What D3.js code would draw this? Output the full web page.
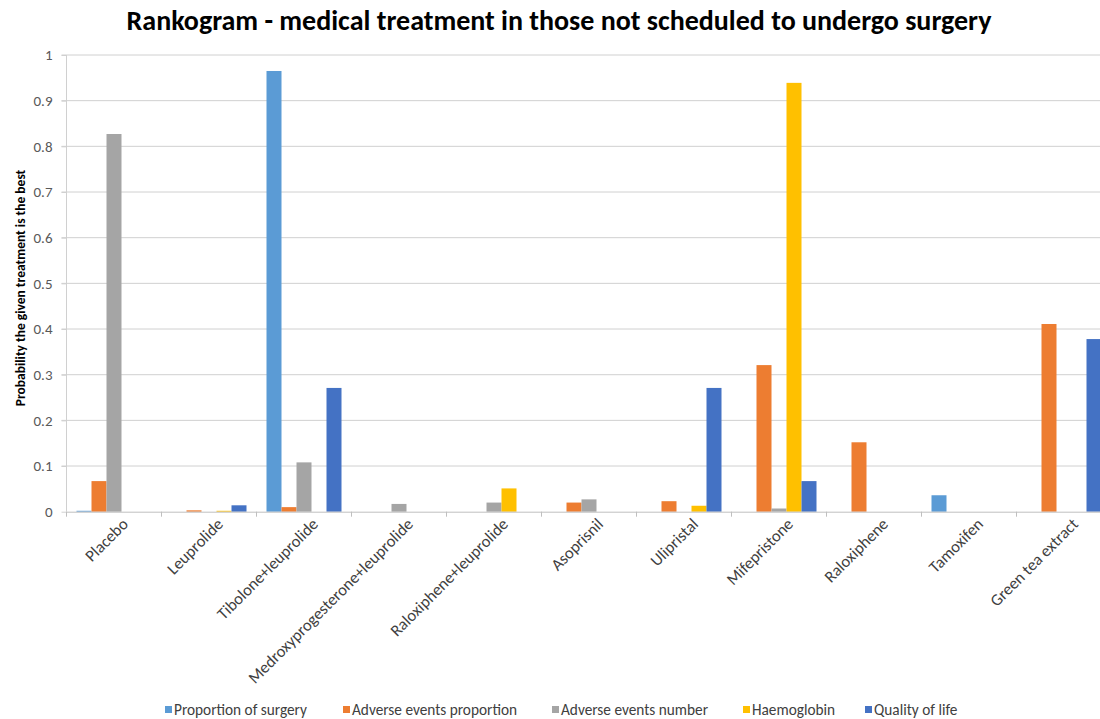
<!DOCTYPE html>
<html><head><meta charset="utf-8">
<script src="https://cdn.jsdelivr.net/npm/d3@7"></script>
<style>body{margin:0;background:#fff;} svg{display:block;}</style>
</head><body>
<svg id="chart" width="1100" height="719"></svg>
<script>
const categories = ["Placebo","Leuprolide","Tibolone+leuprolide","Medroxyprogesterone+leuprolide","Raloxiphene+leuprolide","Asoprisnil","Ulipristal","Mifepristone","Raloxiphene","Tamoxifen","Green tea extract"];
const seriesNames = ["Proportion of surgery","Adverse events proportion","Adverse events number","Haemoglobin","Quality of life"];
const proportionOfSurgery    = [0.002, 0,     0.965, 0,     0,    0,     0,     0,     0,     0.036, 0];
const adverseEventsProportion= [0.067, 0.003, 0.010, 0,     0,    0.020, 0.023, 0.321, 0.152, 0,     0.411];
const adverseEventsNumber    = [0.827, 0,     0.108, 0.017, 0.020,0.027, 0,     0.007, 0,     0,     0];
const haemoglobin            = [0,     0.002, 0,     0,     0.051,0,     0.013, 0.939, 0,     0,     0];
const qualityOfLife          = [0,     0.014, 0.271, 0,     0,    0,     0.271, 0.067, 0,     0,     0.378];
const yTicks = [0,0.1,0.2,0.3,0.4,0.5,0.6,0.7,0.8,0.9,1];
const colors = ["#5B9BD5","#ED7D31","#A5A5A5","#FFC000","#4472C4"];
const seriesValues = [proportionOfSurgery, adverseEventsProportion, adverseEventsNumber, haemoglobin, qualityOfLife];

const FONT = "Carlito, Calibri, Lato, 'Open Sans', sans-serif";
const svg = d3.select("#chart");
const pLeft = 66.5, pRight = 1111.5, pTop = 55, pBottom = 511.7;

const x = d3.scaleBand().domain(categories).range([pLeft, pRight]).paddingInner(0).paddingOuter(0);
const padPx = 10;
const x1 = d3.scaleBand().domain(seriesNames).range([padPx, x.bandwidth() - padPx]);
const y = d3.scaleLinear().domain([0, 1]).range([pBottom, pTop]);

// gridlines
svg.append("g").selectAll("line").data(yTicks.filter(d => d > 0)).join("line")
  .attr("x1", pLeft - 5).attr("x2", pRight)
  .attr("y1", d => y(d)).attr("y2", d => y(d))
  .attr("stroke", "#d0d0d0").attr("stroke-width", 1);
// y axis line
svg.append("line").attr("x1", pLeft).attr("x2", pLeft).attr("y1", pTop).attr("y2", pBottom)
  .attr("stroke", "#d0d0d0");

// y tick labels
const yAxis = d3.axisLeft(y).tickValues(yTicks).tickFormat(d3.format("~g")).tickSize(5).tickPadding(9);
const yg = svg.append("g").attr("transform", `translate(${pLeft},0)`).call(yAxis);
yg.select(".domain").remove();
yg.selectAll(".tick line").attr("stroke", "#d0d0d0");
yg.selectAll("text").attr("font-family", FONT).attr("font-size", 15).attr("fill", "#595959");

// bars
const groups = svg.append("g").selectAll("g").data(categories).join("g")
  .attr("transform", d => `translate(${x(d)},0)`);
groups.selectAll("rect").data((c, i) => seriesNames.map((s, j) => ({s, v: seriesValues[j][i], j})))
  .join("rect")
  .attr("x", d => x1(d.s)).attr("width", x1.bandwidth())
  .attr("y", d => y(d.v)).attr("height", d => y(0) - y(d.v))
  .attr("fill", d => colors[d.j]);

// x axis
const xAxis = d3.axisBottom(x).tickSize(0).tickPadding(10);
const xg = svg.append("g").attr("transform", `translate(0,${pBottom})`).call(xAxis);
xg.select(".domain").attr("stroke", "#bfbfbf");
xg.selectAll("text").attr("font-family", FONT).attr("font-size", 16.5).attr("fill", "#404040")
  .attr("text-anchor", "end")
  .attr("transform", "translate(4,0) rotate(-45)")
  .attr("dx", "-0.1em").attr("dy", "0.45em");
// category boundary ticks
svg.append("g").selectAll("line").data(d3.range(categories.length + 1)).join("line")
  .attr("x1", i => pLeft + i * x.bandwidth()).attr("x2", i => pLeft + i * x.bandwidth())
  .attr("y1", pBottom).attr("y2", pBottom + 5).attr("stroke", "#bfbfbf");

// title
svg.append("text").attr("x", 559).attr("y", 30).attr("text-anchor", "middle")
  .attr("font-family", FONT).attr("font-weight", "bold").attr("font-size", 28).attr("fill", "#000")
  .text("Rankogram - medical treatment in those not scheduled to undergo surgery");

// y title
svg.append("text").attr("transform", `translate(25,288) rotate(-90)`)
  .attr("text-anchor", "middle").attr("font-family", FONT).attr("font-weight", "bold")
  .attr("font-size", 13.5).attr("fill", "#000")
  .text("Probability the given treatment is the best");

// legend
const legendX = [165, 343, 552, 743, 865];
const lg = svg.append("g").selectAll("g").data(seriesNames).join("g")
  .attr("transform", (d, i) => `translate(${legendX[i]},710)`);
lg.append("rect").attr("x", 0).attr("y", -4).attr("width", 7).attr("height", 7).attr("fill", (d, i) => colors[i]);
lg.append("text").attr("x", 9).attr("y", 5).attr("font-family", FONT).attr("font-size", 15.3)
  .attr("fill", "#404040").text(d => d);
</script>
</body></html>
